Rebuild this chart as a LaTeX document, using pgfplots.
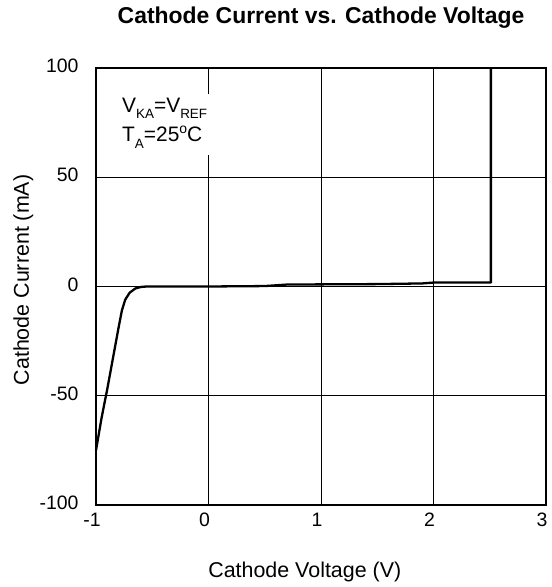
\documentclass[border=0pt]{standalone}
\usepackage{pgfplots}
\pgfplotsset{compat=1.18}
\usepackage{fontspec}
\setmainfont{Liberation Sans}
\newcommand{\sub}[2]{\raisebox{-#1}{\fontsize{13.5}{13.5}\selectfont #2}}
\begin{document}
\begin{tikzpicture}
\begin{axis}[name=ax,
  scale only axis, width=450bp, height=437bp,
  xmin=-1, xmax=3, ymin=-100, ymax=100,
  xtick={-1,0,1,2,3}, ytick={-100,-50,0,50,100},
  grid=major, major grid style={black, line width=1pt},
  axis line style={black, line width=1.4pt},
  major tick length=0pt,
  tick label style={font=\fontsize{19.5}{21}\selectfont},
  /pgf/number format/assume math mode=true,
  xticklabel style={anchor=base, yshift=-21bp, xshift=-4bp},
  yticklabel style={xshift=-14bp, yshift=2bp},
  xlabel={Cathode Voltage (V)}, ylabel={Cathode Current (mA)},
  label style={font=\fontsize{21.5}{23}\selectfont},
  xlabel style={at={(axis description cs:0.464,-0.167)}, anchor=base},
  ylabel style={at={(axis description cs:-0.149,0.515)}, anchor=base},
  title={\bfseries Cathode Current vs. Cathode Voltage},
  title style={font=\fontsize{23}{25}\selectfont, at={(axis description cs:0.5,1.087)}, anchor=base},
  clip=false,
]
\addplot[black, line width=2.3pt, line join=round] coordinates {
(-1,-75) (-0.95,-60) (-0.9,-47) (-0.85,-33) (-0.8,-19) (-0.77,-11) (-0.74,-6) (-0.70,-2.8) (-0.65,-0.9) (-0.6,-0.2) (-0.55,0) (0,0) (0.5,0.2) (0.7,0.9) (1.5,1.1) (1.9,1.4) (2.0,1.8) (2.51,1.8) (2.51,100)
};
\fill[white] (axis cs:-0.804,88.3) rectangle (axis cs:0.12,60);
\node[anchor=base west, inner sep=0pt, font=\fontsize{21}{21}\selectfont] at (axis cs:-0.769,79.6)
 {V\sub{5.5bp}{KA}=V\sub{5.5bp}{REF}};
\node[anchor=base west, inner sep=0pt, font=\fontsize{21}{21}\selectfont] at (axis cs:-0.769,66.5)
 {T\sub{7bp}{A}=25\raisebox{7.5bp}{\fontsize{14}{14}\selectfont o}C};
\end{axis}
\path[use as bounding box] ([xshift=-96bp,yshift=-82bp]ax.south west) rectangle ([xshift=6bp,yshift=68bp]ax.north east);
\end{tikzpicture}
\end{document}
